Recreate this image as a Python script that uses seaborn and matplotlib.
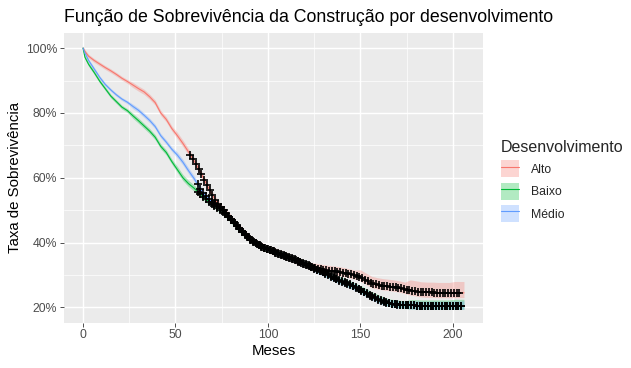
import numpy as np
import pandas as pd
import matplotlib
matplotlib.use("Agg")
import matplotlib.pyplot as plt
import seaborn as sns
from matplotlib.patches import Patch
from matplotlib.lines import Line2D
from matplotlib.ticker import FixedLocator, FuncFormatter

# ---------------- data ----------------
groups = ["Alto", "Baixo", "Médio"]
colors = ["#F8766D", "#00BA38", "#619CFF"]

months = [0, 1, 3, 6, 9, 12, 15, 18, 21, 24, 27, 30, 33, 36, 39, 42, 45, 48, 51, 54,
          57, 60, 63, 66, 69, 72, 75, 78, 81, 84, 87, 90, 93, 96, 99, 102, 105, 108,
          111, 114, 117, 120, 123, 126, 129, 132, 135, 138, 141, 144, 147, 150, 153,
          156, 159, 162, 165, 168, 171, 174, 177, 180, 183, 186, 189, 192, 195, 198,
          201, 204, 206]

surv_alto = [1.000, 0.990, 0.975, 0.962, 0.951, 0.940, 0.930, 0.919, 0.907, 0.897,
             0.886, 0.875, 0.865, 0.850, 0.832, 0.800, 0.780, 0.752, 0.730, 0.706,
             0.680, 0.653, 0.622, 0.589, 0.556, 0.528, 0.505, 0.487, 0.467, 0.448,
             0.430, 0.413, 0.400, 0.390, 0.382, 0.375, 0.368, 0.362, 0.355, 0.348,
             0.340, 0.333, 0.326, 0.320, 0.317, 0.314, 0.312, 0.310, 0.307, 0.303,
             0.299, 0.294, 0.284, 0.274, 0.270, 0.267, 0.265, 0.263, 0.260, 0.256,
             0.253, 0.250, 0.247, 0.246, 0.246, 0.245, 0.245, 0.245, 0.245, 0.245,
             0.245]

surv_baixo = [1.000, 0.972, 0.950, 0.925, 0.898, 0.875, 0.852, 0.835, 0.818, 0.807,
              0.791, 0.776, 0.760, 0.744, 0.725, 0.697, 0.678, 0.650, 0.625, 0.600,
              0.582, 0.568, 0.552, 0.536, 0.522, 0.510, 0.498, 0.482, 0.463, 0.444,
              0.427, 0.411, 0.399, 0.389, 0.381, 0.374, 0.368, 0.362, 0.356, 0.349,
              0.342, 0.335, 0.327, 0.318, 0.311, 0.303, 0.294, 0.286, 0.279, 0.272,
              0.264, 0.255, 0.245, 0.236, 0.228, 0.220, 0.214, 0.211, 0.209, 0.207,
              0.206, 0.206, 0.205, 0.205, 0.205, 0.205, 0.205, 0.205, 0.205, 0.205,
              0.205]

surv_medio = [1.000, 0.985, 0.962, 0.936, 0.910, 0.888, 0.871, 0.856, 0.843, 0.833,
              0.820, 0.808, 0.793, 0.777, 0.758, 0.730, 0.710, 0.688, 0.670, 0.648,
              0.622, 0.598, 0.570, 0.545, 0.528, 0.515, 0.502, 0.485, 0.467, 0.448,
              0.430, 0.413, 0.400, 0.390, 0.382, 0.374, 0.367, 0.361, 0.354, 0.347,
              0.340, 0.333, 0.325, 0.316, 0.309, 0.301, 0.292, 0.284, 0.277, 0.270,
              0.262, 0.253, 0.243, 0.233, 0.225, 0.218, 0.213, 0.210, 0.208, 0.207,
              0.206, 0.206, 0.205, 0.205, 0.205, 0.205, 0.205, 0.205, 0.205, 0.205,
              0.205]

# confidence band offsets, one per 25-month block (0-25, 25-50, ..., 200+)
band_bounds = [25, 50, 75, 100, 125, 150, 175, 200]
ci_up_alto = [0.006, 0.008, 0.010, 0.012, 0.013, 0.016, 0.022, 0.032, 0.035]
ci_lo_alto = [0.006, 0.008, 0.010, 0.011, 0.011, 0.012, 0.013, 0.015, 0.015]
ci_up_baixo = [0.006, 0.008, 0.010, 0.010, 0.010, 0.011, 0.013, 0.018, 0.020]
ci_lo_baixo = [0.006, 0.008, 0.009, 0.009, 0.009, 0.010, 0.010, 0.011, 0.011]
ci_up_medio = [0.005, 0.007, 0.009, 0.010, 0.010, 0.011, 0.012, 0.014, 0.015]
ci_lo_medio = [0.005, 0.007, 0.009, 0.009, 0.009, 0.010, 0.010, 0.011, 0.011]

# censoring marks: first month with marks, and spacing between marks (months)
censor_start = [58, 62, 62]
censor_end = 205
censor_step = 1.5

title = "Função de Sobrevivência da Construção por desenvolvimento"
xlabel = "Meses"
ylabel = "Taxa de Sobrevivência"
legend_title = "Desenvolvimento"
xticks = [0, 50, 100, 150, 200]
yticks = [0.2, 0.4, 0.6, 0.8, 1.0]

# ---------------- build table ----------------
survs = [surv_alto, surv_baixo, surv_medio]
ups = [ci_up_alto, ci_up_baixo, ci_up_medio]
los = [ci_lo_alto, ci_lo_baixo, ci_lo_medio]
t = np.array(months, dtype=float)
blk = np.searchsorted(band_bounds, t, side="right")
frames = []
for g, s, u, l in zip(groups, survs, ups, los):
    s = np.array(s)
    frames.append(pd.DataFrame({
        "Meses": t, "surv": s, "grupo": g,
        "upper": s + np.array(u)[blk], "lower": s - np.array(l)[blk],
    }))
df = pd.concat(frames, ignore_index=True)

# ---------------- style ----------------
sns.set_theme(style="darkgrid", rc={
    "axes.facecolor": "#EBEBEB",
    "grid.color": "white",
    "figure.facecolor": "white",
})
plt.rcParams["font.family"] = ["Liberation Sans", "DejaVu Sans"]

fig = plt.figure(figsize=(6.31, 3.68), dpi=100)
ax = fig.add_axes([64 / 631, 1 - 322.5 / 368, (483 - 64) / 631, (322.5 - 33) / 368])

palette = dict(zip(groups, colors))

for g, c in zip(groups, colors):
    d = df[df["grupo"] == g]
    ax.fill_between(d["Meses"], d["lower"], d["upper"],
                    color=c, alpha=0.3, lw=0, zorder=2)

sns.lineplot(data=df, x="Meses", y="surv", hue="grupo", palette=palette,
             estimator=None, sort=True, lw=0.8,
             legend=False, ax=ax, zorder=3)

for g, c, s, cs in zip(groups, colors, survs, censor_start):
    ct = np.arange(cs, censor_end, censor_step)
    cy = np.interp(ct, t, s)  # marks sit on the drawn curve
    ax.plot(ct, cy, ls="none", marker="+", ms=5.5, mew=1.2,
            color="black", zorder=4)

ax.margins(x=0.05, y=0.05)

ax.xaxis.set_major_locator(FixedLocator(xticks))
ax.xaxis.set_minor_locator(FixedLocator([25, 75, 125, 175]))
ax.yaxis.set_major_locator(FixedLocator(yticks))
ax.yaxis.set_minor_locator(FixedLocator([0.3, 0.5, 0.7, 0.9]))
ax.yaxis.set_major_formatter(FuncFormatter(lambda v, p: f"{v*100:.0f}%"))
ax.grid(which="major", color="white", lw=1.05)
ax.grid(which="minor", color="white", lw=0.5)
for sp in ax.spines.values():
    sp.set_visible(False)
ax.tick_params(axis="both", which="major", length=3, width=0.6, color="#333333",
               labelsize=8.8, labelcolor="#4D4D4D", pad=2, bottom=True, left=True)
ax.tick_params(which="minor", length=0)

ax.set_xlabel(xlabel, fontsize=10.8, color="black", labelpad=2)
ax.set_ylabel(ylabel, fontsize=10.8, color="black", labelpad=3)
fig.text(64 / 631, 1 - 18 / 368, title, fontsize=12.8, ha="left", va="center",
         color="black")

handles = [(Patch(facecolor=c, alpha=0.3, edgecolor="none"),
            Line2D([], [], color=c, lw=0.8)) for c in colors]
leg = fig.legend(handles, groups, title=legend_title, loc="upper left",
                 bbox_to_anchor=(496 / 631, 1 - 135 / 368), frameon=False,
                 fontsize=8.8, title_fontsize=11.5, handlelength=1.5,
                 handleheight=1.75, labelspacing=0.45, handletextpad=1.0,
                 borderaxespad=0)
leg._legend_box.align = "left"

fig.savefig("out.png", dpi=100)
